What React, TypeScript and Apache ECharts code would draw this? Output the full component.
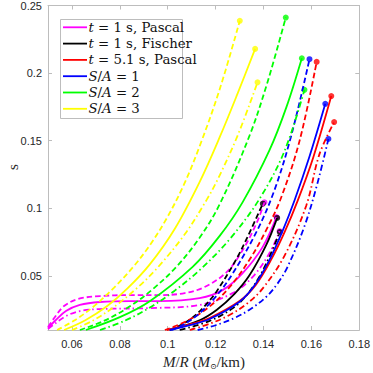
import React, { useEffect, useRef } from 'react';
import * as echarts from 'echarts';

type Pt = [number, number];

// ---- tick values ----
const xTicks = [0.06, 0.08, 0.1, 0.12, 0.14, 0.16, 0.18];
const yTicks = [0.05, 0.1, 0.15, 0.2, 0.25];

// ---- curves: [M/R, s] ----
const magentaSolid: Pt[] = [[0.05, 0.0115], [0.0533, 0.0174], [0.0575, 0.024], [0.0633, 0.0285], [0.0717, 0.0307], [0.0842, 0.0314], [0.0967, 0.0314], [0.1133, 0.0336], [0.1229, 0.0395], [0.1313, 0.0521], [0.1396, 0.0713], [0.1454, 0.0935]];
const magentaDashed: Pt[] = [[0.05, 0.0122], [0.0529, 0.0196], [0.0567, 0.0277], [0.0625, 0.0329], [0.0717, 0.0351], [0.0842, 0.0358], [0.0967, 0.0358], [0.1071, 0.0373], [0.1154, 0.0418], [0.1246, 0.0528], [0.1313, 0.0691], [0.1371, 0.089], [0.1404, 0.1045]];
const magentaDashDot: Pt[] = [[0.05, 0.0107], [0.0533, 0.0152], [0.0575, 0.0203], [0.0633, 0.024], [0.0717, 0.0255], [0.0925, 0.0262], [0.1133, 0.0285], [0.1271, 0.0373], [0.1354, 0.0491], [0.1425, 0.0669], [0.1467, 0.0831]];

const blackSolid: Pt[] = [[0.1008, 0.01], [0.1133, 0.0172], [0.1204, 0.0248], [0.1279, 0.0367], [0.1342, 0.0506], [0.1413, 0.0735], [0.1457, 0.0929]];
const blackDashed: Pt[] = [[0.1008, 0.01], [0.1063, 0.0144], [0.1113, 0.0206], [0.1158, 0.0284], [0.1204, 0.0385], [0.1288, 0.0629], [0.1342, 0.0821], [0.1397, 0.1034]];
const blackDashDot: Pt[] = [[0.105, 0.01], [0.1175, 0.0167], [0.1271, 0.026], [0.1329, 0.0356], [0.1383, 0.0495], [0.1425, 0.0643], [0.1468, 0.0824]];

const redSolid: Pt[] = [[0.0996, 0.01], [0.1092, 0.0141], [0.1175, 0.0189], [0.13, 0.0314], [0.1367, 0.0432], [0.1433, 0.0624], [0.1488, 0.0824], [0.1542, 0.1053], [0.1608, 0.1378], [0.1683, 0.183]];
const redDashed: Pt[] = [[0.0988, 0.01], [0.1083, 0.0169], [0.1175, 0.0274], [0.1258, 0.0416], [0.1342, 0.0621], [0.1408, 0.0828], [0.1471, 0.1067], [0.155, 0.1495], [0.1622, 0.2083]];
const redDashDot: Pt[] = [[0.1092, 0.01], [0.1175, 0.0146], [0.1258, 0.0211], [0.1329, 0.0292], [0.1396, 0.0406], [0.1488, 0.065], [0.1579, 0.1023], [0.1633, 0.1397], [0.1695, 0.1638]];

const blueSolid: Pt[] = [[0.1008, 0.01], [0.1092, 0.0136], [0.1175, 0.0181], [0.13, 0.0309], [0.1363, 0.0431], [0.1425, 0.0619], [0.1479, 0.083], [0.1529, 0.1056], [0.1592, 0.1383], [0.1658, 0.1773]];
const blueDashed: Pt[] = [[0.1017, 0.01], [0.1075, 0.0149], [0.1133, 0.0224], [0.1204, 0.0353], [0.1271, 0.0517], [0.1371, 0.0827], [0.1446, 0.1136], [0.1517, 0.1545], [0.1592, 0.2103]];
const blueDashDot: Pt[] = [[0.1125, 0.01], [0.12, 0.0135], [0.1279, 0.0189], [0.1346, 0.0255], [0.1413, 0.0348], [0.1458, 0.0442], [0.15, 0.0565], [0.1571, 0.0867], [0.1625, 0.1184], [0.1671, 0.1513]];

const greenSolid: Pt[] = [[0.0658, 0.01], [0.08, 0.0195], [0.0925, 0.0313], [0.1104, 0.0567], [0.1217, 0.0796], [0.1313, 0.1046], [0.1425, 0.143], [0.1496, 0.175], [0.156, 0.211]];
const greenDashed: Pt[] = [[0.0633, 0.01], [0.0738, 0.0171], [0.0842, 0.0275], [0.0938, 0.0403], [0.1038, 0.0571], [0.1133, 0.0782], [0.1217, 0.103], [0.1342, 0.1539], [0.1417, 0.1935], [0.1493, 0.2411]];
const greenDashDot: Pt[] = [[0.0717, 0.01], [0.0821, 0.0169], [0.0925, 0.0266], [0.1029, 0.0391], [0.1133, 0.0543], [0.1258, 0.077], [0.1383, 0.1069], [0.1488, 0.1425], [0.1571, 0.1876]];

const yellowSolid: Pt[] = [[0.0567, 0.01], [0.0654, 0.017], [0.0746, 0.0275], [0.0833, 0.0409], [0.0925, 0.0585], [0.1029, 0.0847], [0.1133, 0.1194], [0.1217, 0.1526], [0.1292, 0.185], [0.1365, 0.2179]];
const yellowDashed: Pt[] = [[0.0538, 0.01], [0.0617, 0.0178], [0.0696, 0.0282], [0.0775, 0.0412], [0.0854, 0.0563], [0.0925, 0.0726], [0.0996, 0.0927], [0.1067, 0.1173], [0.1133, 0.1458], [0.1217, 0.188], [0.1301, 0.2387]];
const yellowDashDot: Pt[] = [[0.06, 0.01], [0.0688, 0.017], [0.0779, 0.0275], [0.0867, 0.0403], [0.0954, 0.0554], [0.1071, 0.0808], [0.1163, 0.1064], [0.1217, 0.1244], [0.1296, 0.1556], [0.1375, 0.1932]];

const legendLabels = [
  '{i|t}{n| = 1 s, Pascal}',
  '{i|t}{n| = 1 s, Fischer}',
  '{i|t}{n| = 5.1 s, Pascal}',
  '{i|S}{n|/}{i|A}{n| = 1}',
  '{i|S}{n|/}{i|A}{n| = 2}',
  '{i|S}{n|/}{i|A}{n| = 3}',
];

const groups = [
  { name: 'g1', color: '#ff00ff', curves: [magentaSolid, magentaDashed, magentaDashDot] },
  { name: 'g2', color: '#000000', curves: [blackSolid, blackDashed, blackDashDot] },
  { name: 'g3', color: '#ff0000', curves: [redSolid, redDashed, redDashDot] },
  { name: 'g4', color: '#0000ff', curves: [blueSolid, blueDashed, blueDashDot] },
  { name: 'g5', color: '#00ff00', curves: [greenSolid, greenDashed, greenDashDot] },
  { name: 'g6', color: '#ffff00', curves: [yellowSolid, yellowDashed, yellowDashDot] },
];

const lineTypes: any[] = ['solid', [5.5, 3], [6, 3, 1.5, 3]];

const AXIS = '#bdbdbd';
const SERIF = 'Liberation Serif';
const LEG_FONT = 'DejaVu Serif';
const LEG_SIZE = 13.3;
const TXT = '#262626';

export default function App() {
  const ref = useRef<HTMLDivElement>(null);
  useEffect(() => {
    if (!ref.current) return;
    const chart = echarts.init(ref.current, undefined, { renderer: 'svg' });
    const series: any[] = [];
    groups.forEach((g) => {
      g.curves.forEach((c, k) => {
        series.push({
          type: 'line',
          name: k === 0 ? g.name : g.name + '_' + k,
          data: c,
          symbol: 'none',
          showSymbol: false,
          smooth: 0.35,
          silent: true,
          lineStyle: { color: g.color, width: 1.8, type: lineTypes[k] },
          itemStyle: { color: g.color },
        });
      });
    });
    groups.forEach((g) => {
      series.push({
        type: 'scatter',
        name: g.name + '_end',
        data: g.curves.map((c) => c[c.length - 1]),
        symbol: 'circle',
        symbolSize: 6,
        silent: true,
        itemStyle: { color: g.color },
      });
    });
    const axisCommon = {
      type: 'value',
      axisLine: { show: true, onZero: false, lineStyle: { color: AXIS, width: 1 } },
      splitLine: { show: false },
    };

    // legend drawn as graphic elements (box, sample lines, rich labels)
    const rowY0 = 27.3;
    const rowStep = 16.3;
    const legendElems: any[] = [
      {
        type: 'rect',
        z: 10,
        silent: true,
        shape: { x: 60.5, y: 19.5, width: 122, height: 99 },
        style: { fill: '#ffffff', stroke: AXIS, lineWidth: 1 },
      },
    ];
    groups.forEach((g, k) => {
      const y = rowY0 + rowStep * k;
      legendElems.push({
        type: 'line',
        z: 11,
        silent: true,
        shape: { x1: 63, y1: y, x2: 87, y2: y },
        style: { stroke: g.color, lineWidth: 1.8 },
      });
      legendElems.push({
        type: 'text',
        z: 11,
        silent: true,
        x: 88.5,
        y: y,
        style: {
          text: legendLabels[k],
          align: 'left',
          verticalAlign: 'middle',
          fill: '#111',
          font: LEG_SIZE + 'px "DejaVu Serif"',
          rich: {
            i: { fontStyle: 'italic', fontFamily: LEG_FONT, fontSize: LEG_SIZE, fill: '#111' },
            n: { fontFamily: LEG_FONT, fontSize: LEG_SIZE, fill: '#111' },
          },
        },
      });
    });

    chart.setOption({
      animation: false,
      backgroundColor: '#ffffff',
      grid: { left: 48, right: 13, top: 5, bottom: 43, containLabel: false },
      xAxis: [
        {
          ...axisCommon,
          min: 0.05,
          max: 0.18,
          position: 'bottom',
          axisTick: { show: true, inside: true, length: 4, customValues: xTicks, lineStyle: { color: AXIS } },
          axisLabel: { customValues: xTicks, color: TXT, fontFamily: 'Liberation Sans', fontSize: 11, margin: 8 },
        },
        {
          ...axisCommon,
          min: 0.05,
          max: 0.18,
          position: 'top',
          axisTick: { show: true, inside: true, length: 4, customValues: xTicks, lineStyle: { color: AXIS } },
          axisLabel: { show: false },
        },
      ],
      yAxis: [
        {
          ...axisCommon,
          min: 0.01,
          max: 0.25,
          position: 'left',
          axisTick: { show: true, inside: true, length: 4, customValues: yTicks, lineStyle: { color: AXIS } },
          axisLabel: { customValues: yTicks, color: TXT, fontFamily: 'Liberation Sans', fontSize: 11, margin: 6 },
        },
        {
          ...axisCommon,
          min: 0.01,
          max: 0.25,
          position: 'right',
          axisTick: { show: true, inside: true, length: 4, customValues: yTicks, lineStyle: { color: AXIS } },
          axisLabel: { show: false },
        },
      ],
      graphic: [
        ...legendElems,
        {
          type: 'text',
          x: 204,
          y: 362,
          silent: true,
          style: {
            text: '{i|M}{n|/}{i|R}{n| (}{i|M}{s|⊙}{n|/km)}',
            align: 'center',
            verticalAlign: 'middle',
            fill: TXT,
            fontFamily: SERIF,
            fontSize: 15,
            rich: {
              i: { fontStyle: 'italic', fontFamily: SERIF, fontSize: 15, height: 18, fill: TXT },
              n: { fontFamily: SERIF, fontSize: 15, height: 18, fill: TXT },
              s: { fontFamily: 'DejaVu Serif', fontSize: 8, height: 9, verticalAlign: 'bottom', fill: TXT },
            },
          },
        },
        {
          type: 'text',
          x: 13,
          y: 167,
          rotation: Math.PI / 2,
          silent: true,
          style: {
            text: 's',
            align: 'center',
            verticalAlign: 'middle',
            fill: TXT,
            fontFamily: SERIF,
            fontSize: 15,
          },
        },
      ],
      series,
    });
    return () => chart.dispose();
  }, []);
  return (
    <div
      ref={ref}
      style={{ position: 'fixed', left: 0, top: 0, width: 373, height: 373, background: '#fff' }}
    />
  );
}
